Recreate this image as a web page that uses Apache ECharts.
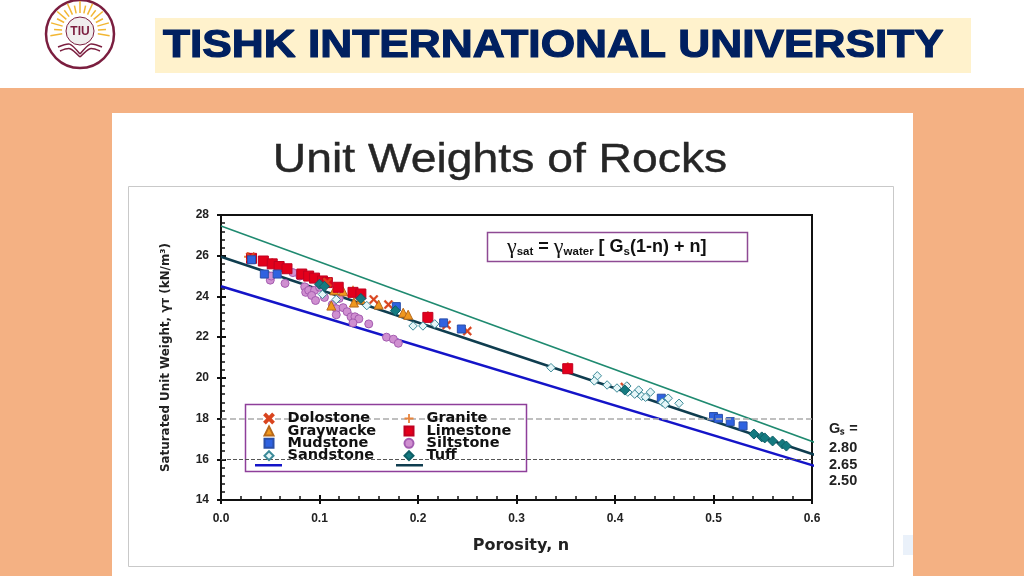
<!DOCTYPE html>
<html><head><meta charset="utf-8">
<style>html,body{margin:0;padding:0;background:#fff}#c{width:1024px;height:576px}</style>
<script src="https://cdn.jsdelivr.net/npm/echarts@6/dist/echarts.min.js"></script>
</head><body><div id="c"></div>
<script>
const pageTitle = 'TISHK INTERNATIONAL UNIVERSITY';
const chartTitle = 'Unit Weights of Rocks';
const xName = 'Porosity, n';
const yName = 'Saturated Unit Weight, \u03B3\u1D1B (kN/m\u00B3)';
const gsLabels = ['G\u209B =', '2.80', '2.65', '2.50'];

const line280 = [[0, 27.46], [0.605, 16.79]];
const line265 = [[0, 25.95], [0.605, 16.18]];
const line250 = [[0, 24.5], [0.605, 15.64]];
const guideLevels = [18, 16];

const dolostone = [[0.03,25.95],[0.108,24.7],[0.155,23.85],[0.17,23.6],[0.229,22.6],[0.25,22.3],[0.41,19.55]];
const granite = [[0.028,25.95],[0.052,25.65],[0.134,24.3],[0.21,23.05],[0.352,20.55]];
const graywacke = [[0.112,23.55],[0.115,24.3],[0.124,24.25],[0.135,23.7],[0.142,23.85],[0.16,23.6],[0.185,23.2],[0.19,23.1]];
const limestone = [[0.031,25.87],[0.043,25.74],[0.052,25.6],[0.059,25.47],[0.067,25.36],[0.082,25.1],[0.089,25.0],[0.095,24.9],[0.103,24.76],[0.108,24.68],[0.119,24.45],[0.134,24.2],[0.142,24.12],[0.21,22.97],[0.352,20.45]];
const mudstone = [[0.031,25.8],[0.044,25.1],[0.057,25.1],[0.178,23.5],[0.226,22.7],[0.244,22.4],[0.447,19.0],[0.50,18.1],[0.505,18.01],[0.517,17.85],[0.53,17.64]];
const siltstone = [[0.05,24.8],[0.051,25.0],[0.065,24.64],[0.073,25.17],[0.08,25.0],[0.085,24.47],[0.086,24.2],[0.089,24.3],[0.095,24.3],[0.1,24.45],[0.092,24.05],[0.096,23.8],[0.105,23.95],[0.12,23.9],[0.113,23.6],[0.117,23.4],[0.124,23.45],[0.128,23.25],[0.117,23.1],[0.132,23.0],[0.136,23.0],[0.14,22.9],[0.134,22.7],[0.15,22.65],[0.168,22.0],[0.175,21.9],[0.18,21.7]];
const sandstone = [[0.103,24.1],[0.117,23.85],[0.148,23.55],[0.195,22.55],[0.205,22.55],[0.217,22.65],[0.335,20.5],[0.382,20.1],[0.379,19.85],[0.392,19.65],[0.402,19.5],[0.412,19.6],[0.424,19.4],[0.413,19.3],[0.42,19.2],[0.427,19.1],[0.431,19.05],[0.436,19.3],[0.454,19.0],[0.448,18.8],[0.451,18.7],[0.465,18.75]];
const tuff = [[0.1,24.6],[0.105,24.5],[0.142,23.9],[0.177,23.3],[0.41,19.4],[0.541,17.24],[0.549,17.1],[0.552,17.05],[0.56,16.9],[0.57,16.75],[0.574,16.65]];

const crossPath = 'path://M1.5 0L5 3.5L8.5 0L10 1.5L6.5 5L10 8.5L8.5 10L5 6.5L1.5 10L0 8.5L3.5 5L0 1.5Z';
const plusPath = 'path://M4 0H6V4H10V6H6V10H4V6H0V4H4Z';
const pts = (name, data, symbol, size, fill, border, bw) => ({
  type: 'scatter', name, data, symbol, symbolSize: size, clip: false,
  itemStyle: { color: fill, borderColor: border, borderWidth: bw, opacity: 1 }, z: 3
});
const ln = (name, data, color, width, extra) => Object.assign({
  type: 'line', name, data, symbol: 'none', clip: false, silent: true,
  lineStyle: { color, width }, itemStyle: { color }, z: 2
}, extra || {});

const serif = '"Liberation Sans", Arial, sans-serif';
const comic = '"DejaVu Sans", sans-serif';
const bookCurve = (x1, y1, x2, y2, cx, cy, w) => ({ type: 'bezierCurve', shape: { x1, y1, x2, y2, cpx1: cx, cpy1: cy, cpx2: cx, cpy2: cy }, style: { fill: 'none', stroke: '#7B1E3F', lineWidth: w }, z: 3 });
const graphics = [
  { type: 'rect', shape: { x: 0, y: 88, width: 1024, height: 488 }, style: { fill: '#F4B183' }, z: -10 },
  { type: 'rect', shape: { x: 112, y: 113, width: 801, height: 463 }, style: { fill: '#ffffff' }, z: -9 },
  { type: 'rect', shape: { x: 155, y: 18, width: 816, height: 55 }, style: { fill: '#FFF2CC' }, z: -9 },
  { type: 'rect', shape: { x: 128.5, y: 186.5, width: 765, height: 380 }, style: { fill: 'none', stroke: '#c9c9c9', lineWidth: 1 }, z: -8 },
  { type: 'text', x: 163, y: 46.5, scaleX: 1.12, scaleY: 1, style: { x: 0, y: 0, text: pageTitle, fill: '#002060', font: 'bold 39.5px ' + serif, textVerticalAlign: 'middle', stroke: '#002060', lineWidth: 1.2 }, z: 5 },
  // logo
  { type: 'circle', shape: { cx: 80, cy: 34, r: 34 }, style: { fill: '#fff', stroke: '#7B1E3F', lineWidth: 2.5 }, z: 1 },
  { type: 'circle', shape: { cx: 80, cy: 31, r: 14 }, style: { fill: '#f0eeee', stroke: '#7B1E3F', lineWidth: 1 }, z: 2 },
  { type: 'text', style: { x: 80, y: 32, text: 'TIU', fill: '#7B1E3F', font: 'bold 12px ' + serif, textAlign: 'center', textVerticalAlign: 'middle' }, z: 3 },
  bookCurve(58, 47, 80, 54, 70, 42, 1.5),
  bookCurve(102, 47, 80, 54, 90, 42, 1.5),
  bookCurve(60, 51, 80, 57, 70, 47, 1.5),
  bookCurve(100, 51, 80, 57, 90, 47, 1.5),
  { type: 'text', x: 500, y: 161, scaleX: 1.157, scaleY: 1, style: { x: 0, y: 0, text: chartTitle, fill: '#262626', font: '40px ' + serif, textAlign: 'center', textVerticalAlign: 'middle', stroke: '#262626', lineWidth: 0.4 }, z: 5 },
  // formula box
  { type: 'rect', shape: { x: 487.5, y: 232.5, width: 260, height: 29 }, style: { fill: '#fff', stroke: '#8E4A94', lineWidth: 1.5 }, z: 1 },
  { type: 'text', style: { x: 507, y: 247, fill: '#111', textVerticalAlign: 'middle', rich: {
      g: { font: '22px "Liberation Serif", serif', fill: '#111' },
      s: { font: 'bold 11.5px ' + serif, fill: '#111', verticalAlign: 'bottom', padding: [7, 0, 0, 0] },
      t: { font: 'bold 18px ' + serif, fill: '#111' } },
      text: '{g|\u03B3}{s|sat}{t| = }{g|\u03B3}{s|water}{t| [ G}{s|s}{t|(1-n) + n]}' }, z: 5 },
  // legend frame
  { type: 'rect', shape: { x: 245.5, y: 404.5, width: 281, height: 67 }, style: { fill: '#fff', stroke: '#8E3F9A', lineWidth: 1.5 }, z: 3 },
  { type: 'rect', shape: { x: 903, y: 535, width: 10, height: 20 }, style: { fill: '#EAF1FA' }, z: -8 }
];
const gsY = [429, 448, 465, 481];
gsLabels.forEach((t, i) => graphics.push({ type: 'text', style: { x: 829, y: gsY[i], text: t, fill: '#222', font: 'bold 14.5px ' + serif, textVerticalAlign: 'middle' }, z: 5 }));
for (let i = 0; i < 17; i++) {
  const a = Math.PI * (0.95 + i * 1.1 / 16), r1 = 18, r2 = i % 2 ? 26 : 30;
  graphics.push({ type: 'line', shape: { x1: 80 + r1 * Math.cos(a), y1: 31 + r1 * Math.sin(a), x2: 80 + r2 * Math.cos(a), y2: 31 + r2 * Math.sin(a) }, style: { stroke: '#F2B632', lineWidth: 1.5 }, z: 2 });
}

const legendTextA = { fontFamily: comic, fontWeight: 'bold', fontSize: 14.5, color: '#111', lineHeight: 12, height: 12, padding: [0, 0, 0, 9] };
const legendTextB = Object.assign({}, legendTextA, { padding: [0, 0, 0, 8] });
const axisText = { fontFamily: serif, fontWeight: 'bold', fontSize: 12, color: '#222' };
const outerTicks = { show: true, inside: false, length: 4, lineStyle: { color: '#111', width: 2 } };

const option = {
  animation: false,
  backgroundColor: '#fff',
  graphic: graphics,
  grid: { left: 221, right: 212, top: 215, bottom: 76, show: true, borderColor: '#111', borderWidth: 2, backgroundColor: 'transparent', z: 1 },
  xAxis: [{
    type: 'value', min: 0, max: 0.6, interval: 0.1, position: 'bottom',
    name: xName, nameLocation: 'middle', nameGap: 38,
    nameTextStyle: { fontFamily: comic, fontWeight: 'bold', fontSize: 16, color: '#222', padding: [0, 0, 0, 9] },
    axisLine: { onZero: false, lineStyle: { color: '#111', width: 2 } },
    axisTick: { show: true, inside: true, length: 5, lineStyle: { color: '#111', width: 2 } },
    minorTick: { show: true, splitNumber: 5, length: 4, lineStyle: { color: '#111', width: 1.5 } },
    splitLine: { show: false },
    axisLabel: Object.assign({ margin: 13, formatter: v => v.toFixed(1) }, axisText)
  }, {
    type: 'value', min: 0, max: 0.6, interval: 0.1, position: 'bottom',
    axisLine: { show: false, onZero: false }, axisTick: outerTicks, axisLabel: { show: false }, splitLine: { show: false }
  }],
  yAxis: [{
    type: 'value', min: 14, max: 28, interval: 2, position: 'left',
    name: yName, nameLocation: 'middle', nameGap: 49,
    nameTextStyle: { fontFamily: comic, fontWeight: 'bold', fontSize: 11.9, color: '#222' },
    axisLine: { onZero: false, lineStyle: { color: '#111', width: 2 } },
    axisTick: { show: true, inside: true, length: 5, lineStyle: { color: '#111', width: 2 } },
    minorTick: { show: true, splitNumber: 5, length: 4, lineStyle: { color: '#111', width: 1.5 } },
    splitLine: { show: false },
    axisLabel: Object.assign({ margin: 12 }, axisText)
  }, {
    type: 'value', min: 14, max: 28, interval: 2, position: 'left',
    axisLine: { show: false, onZero: false }, axisTick: outerTicks, axisLabel: { show: false }, splitLine: { show: false }
  }],
  legend: [
    { orient: 'vertical', left: 263.5, top: 411, padding: 0, itemGap: -2.6, itemWidth: 9, itemHeight: 9, textStyle: legendTextA, z: 6, selectedMode: false,
      data: ['Dolostone', 'Graywacke', 'Mudstone', 'Sandstone'] },
    { orient: 'vertical', left: 403.5, top: 411, padding: 0, itemGap: -2.6, itemWidth: 9, itemHeight: 9, textStyle: legendTextB, z: 6, selectedMode: false,
      data: ['Granite', 'Limestone', 'Siltstone', 'Tuff'] },
    { orient: 'horizontal', left: 255, top: 464, padding: 0, itemGap: 114, itemWidth: 27, itemHeight: 2.5, z: 6, selectedMode: false,
      formatter: () => '', data: [{ name: 'Gs 2.50', icon: 'rect' }, { name: 'Gs 2.65', icon: 'rect' }] }
  ],
  series: [
    ln('Gs 2.80', line280, '#1F8A70', 1.5),
    ln('Gs 2.50', line250, '#1414C8', 2.5, {
      markLine: { silent: true, symbol: 'none', label: { show: false }, animation: false,
        data: [
          { yAxis: guideLevels[0], lineStyle: { color: '#aaa', type: 'dashed', width: 1.5 } },
          { yAxis: guideLevels[1], lineStyle: { color: '#555', type: 'dashed', width: 1 } }
        ] }
    }),
    pts('Siltstone', siltstone, 'circle', 8, '#CF8FD0', '#A45CB0', 1),
    pts('Granite', granite, plusPath, 9, '#E8843C', '#E8843C', 0),
    pts('Graywacke', graywacke, 'triangle', 9, '#F0981E', '#B8691A', 1),
    pts('Limestone', limestone, 'rect', 10, '#E3001B', '#C00020', 1),
    pts('Dolostone', dolostone, crossPath, 9, '#D9441E', '#D9441E', 0.5),
    pts('Mudstone', mudstone, 'rect', 8, '#2F62E0', '#2A4FA8', 1),
    pts('Sandstone', sandstone, 'diamond', 8.5, '#E6F6F8', '#3B8A98', 1),
    pts('Tuff', tuff, 'diamond', 10, '#147A80', '#0F5F66', 1),
    ln('Gs 2.65', line265, '#0F3D4F', 2.5)
  ]
};
const chart = echarts.init(document.getElementById('c'), null, { renderer: 'canvas' });
chart.setOption(option);
</script></body></html>
